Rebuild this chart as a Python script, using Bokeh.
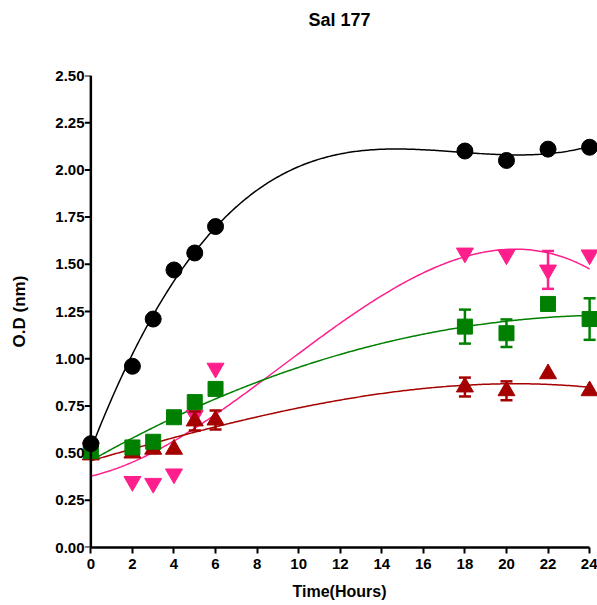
import numpy as np
from bokeh.plotting import figure
from bokeh.models import Range1d, FixedTicker, PrintfTickFormatter, Span, Title
from bokeh.embed import file_html
from bokeh.resources import INLINE

# Sampling times (hours)
hours = [0, 2, 3, 4, 5, 6, 18, 20, 22, 24]

# Mean optical density per series
od_black = [0.55, 0.96, 1.21, 1.47, 1.56, 1.70, 2.10, 2.05, 2.11, 2.12]
od_pink = [0.53, 0.35, 0.34, 0.39, 0.70, 0.95, 1.56, 1.55, 1.47, 1.55]
od_green = [0.51, 0.53, 0.56, 0.69, 0.77, 0.84, 1.17, 1.135, 1.29, 1.21]
od_red = [0.49, 0.50, 0.52, 0.52, 0.67, 0.675, 0.85, 0.83, 0.92, 0.83]

# Standard deviations (0 = smaller than the marker)
sd_black = [0, 0, 0, 0, 0, 0, 0, 0, 0, 0]
sd_pink = [0, 0, 0, 0, 0, 0, 0, 0, 0.10, 0]
sd_green = [0, 0, 0, 0, 0, 0, 0.09, 0.073, 0, 0.11]
sd_red = [0, 0, 0, 0, 0.05, 0.05, 0.05, 0.05, 0, 0]

y_ticks = [0.0, 0.25, 0.5, 0.75, 1.0, 1.25, 1.5, 1.75, 2.0, 2.25, 2.5]
x_ticks = [0, 2, 4, 6, 8, 10, 12, 14, 16, 18, 20, 22, 24]

FONT = "Liberation Sans"

p = figure(width=597, height=605, output_backend="svg", toolbar_location=None,
           x_range=Range1d(-0.45, 24.38), y_range=Range1d(0, 2.5),
           min_border_left=81, min_border_right=0, min_border_top=75,
           min_border_bottom=58)
p.outline_line_color = None
p.grid.visible = False
p.background_fill_color = "white"
p.border_fill_color = "white"

# blank panel between the frame and the title keeps the title near the top edge
p.add_layout(Title(text=" ", text_font_size="1px", standoff=35), "above")

p.title.text = "Sal 177"
p.title.align = "center"
p.title.vertical_align = "top"
p.title.text_font = FONT
p.title.text_font_style = "bold"
p.title.text_font_size = "18px"
p.title.text_color = "black"
p.title.standoff = 12

for ax in (p.xaxis[0], p.yaxis[0]):
    ax.axis_line_width = 2.5
    ax.axis_line_color = "black"
    ax.major_tick_line_width = 2
    ax.major_tick_line_color = "black"
    ax.major_tick_in = 0
    ax.major_tick_out = 6
    ax.minor_tick_line_color = None
    ax.major_label_text_font = FONT
    ax.major_label_text_font_style = "bold"
    ax.major_label_text_font_size = "15px"
    ax.major_label_text_color = "black"
    ax.axis_label_text_font = FONT
    ax.axis_label_text_font_style = "bold"
    ax.axis_label_text_font_size = "16px"
    ax.axis_label_text_color = "black"

p.xaxis.ticker = FixedTicker(ticks=x_ticks)
p.xaxis.bounds = (0, 24)
p.xaxis.axis_label = "Time(Hours)"
p.xaxis.major_label_standoff = 5
p.xaxis.axis_label_standoff = 11

# y axis labels sit on the frame edge; its line and ticks are drawn at x = 0
p.yaxis.ticker = FixedTicker(ticks=y_ticks)
p.yaxis.formatter = PrintfTickFormatter(format="%.2f")
p.yaxis.axis_line_color = None
p.yaxis.major_tick_line_color = None
p.yaxis.major_tick_out = 0
p.yaxis.major_label_standoff = -3
p.yaxis.axis_label = "O.D (nm)"
p.yaxis.axis_label_text_font_size = "17px"
p.yaxis.axis_label_standoff = 23

p.add_layout(Span(location=0, dimension="height", line_color="black", line_width=2.5))
p.ray(x=[0] * len(y_ticks), y=y_ticks, length=6, length_units="screen", angle=np.pi,
      line_color="black", line_width=2)

xs = np.linspace(0, 24, 300)

series = [
    (od_pink, sd_pink, "#ff1f8c", "inverted_triangle", 17),
    (od_red, sd_red, "#a50000", "triangle", 17),
    (od_green, sd_green, "#008000", "square", 15),
    (od_black, sd_black, "#000000", "circle", 16),
]

# third-order polynomial trend for each series
for vals, sd, color, marker, size in series:
    coef = np.polyfit(hours, vals, 3)
    p.line(xs, np.polyval(coef, xs), line_color=color, line_width=1.5)

for vals, sd, color, marker, size in series:
    v = np.array(vals)
    s = np.array(sd)
    t = np.array(hours)
    m = s > 0
    if m.any():
        p.segment(x0=t[m], y0=v[m] - s[m], x1=t[m], y1=v[m] + s[m],
                  line_color=color, line_width=2.5)
        p.scatter(t[m], v[m] + s[m], marker="dash", size=12, line_color=color, line_width=2.5)
        p.scatter(t[m], v[m] - s[m], marker="dash", size=12, line_color=color, line_width=2.5)
    p.scatter(t, v, marker=marker, size=size, fill_color=color, line_color=color,
              line_width=1)

open("out.html", "w").write(file_html(p, INLINE))
